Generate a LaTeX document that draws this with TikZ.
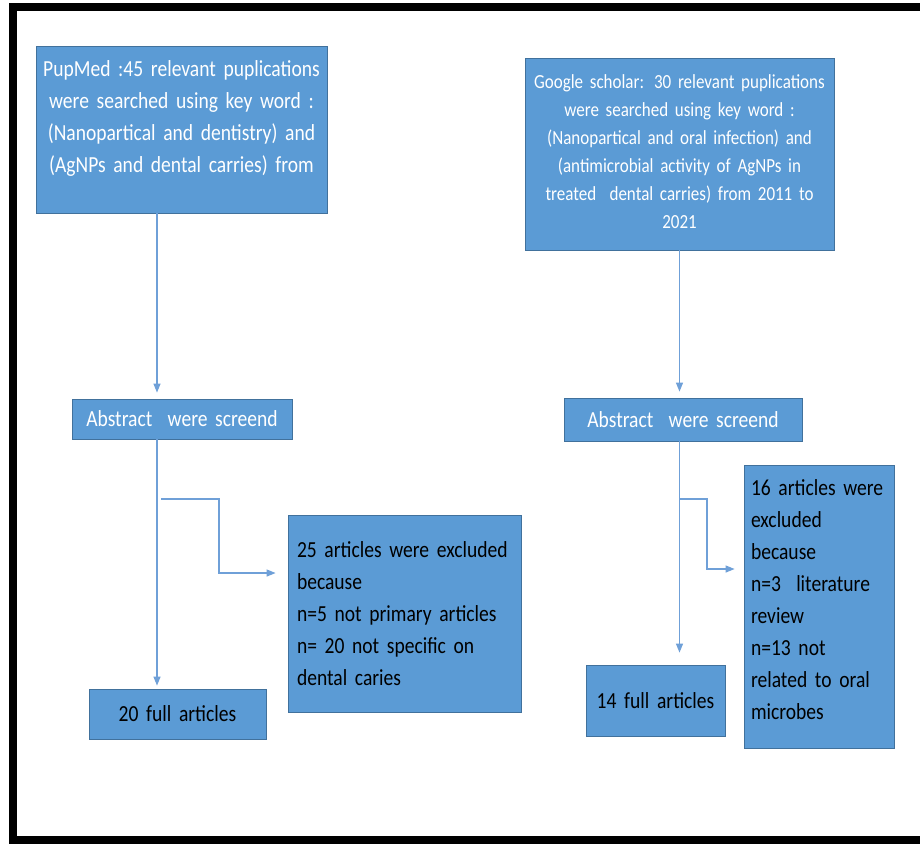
\documentclass[tikz,border=0pt]{standalone}
\usepackage{fontspec}
\setmainfont{Carlito}[FakeStretch=0.85]
\usetikzlibrary{arrows.meta}
\definecolor{boxblue}{HTML}{5B9BD5}
\definecolor{boxedge}{HTML}{41719C}
\definecolor{flowblue}{HTML}{6FA0D8}
\newcommand{\bigfont}{\fontsize{23pt}{32pt}\selectfont\hyphenpenalty=10000}
\newcommand{\smallfont}{\fontsize{20pt}{28pt}\selectfont\hyphenpenalty=10000}
\tikzset{
	blockbox/.style={fill=boxblue,draw=boxedge,line width=0.8pt,inner ysep=0pt,font=\bigfont},
	flow/.style={draw=flowblue,line width=1.2pt,-{Triangle[length=9pt,width=7pt]}}
}

\begin{document}
\begin{tikzpicture}[x=1pt,y=-1pt]
			\useasboundingbox (0,0) rectangle (920,844);
			\draw[line width=8pt] (924,7) -- (13,7) -- (13,840) -- (924,840);

			\node[blockbox,text=white,text width=283pt,inner xsep=4pt,align=center,text height=30pt,text depth=137pt] (pub) at (181.5,129.5)
				{PupMed :45 relevant puplications\\ were searched using key word :\\ (Nanopartical and dentistry) and\\ (AgNPs and dental carries) from};
			\node[blockbox,text=white,font=\smallfont,text width=301pt,inner xsep=4pt,align=center,text height=30pt,text depth=162pt] (gs) at (679.5,154)
				{Google scholar: 30 relevant puplications\\ were searched using key word :\\ (Nanopartical and oral infection) and\\ (antimicrobial activity of AgNPs in\\ treated\ \ dental carries) from 2011 to\\ 2021};

			\node[blockbox,text=white,text width=212pt,inner xsep=4pt,align=center,minimum height=40pt] (absL) at (182,419) {Abstract\ \ were screend};
			\node[blockbox,text=white,text width=230pt,inner xsep=4pt,align=center,minimum height=43pt] (absR) at (683,419.5) {Abstract\ \ were screend};

			\node[blockbox,text width=215pt,inner xsep=9pt,align=left,minimum height=197pt] (exL) at (404.5,613.5)
				{25 articles were excluded\\ because\\ n=5 not primary articles\\ n= 20 not specific on\\ dental caries};
			\node[blockbox,text width=136pt,inner xsep=7pt,align=left,text height=30pt,text depth=253pt] (exR) at (819,606.5)
				{16 articles were\\ excluded\\ because\\ n=3\ \ literature\\ review\\ n=13 not\\ related to oral\\ microbes};

			\node[blockbox,text width=169pt,inner xsep=4pt,align=center,minimum height=50pt] (fullL) at (177.5,714) {20 full articles};
			\node[blockbox,text width=131pt,inner xsep=4pt,align=center,minimum height=71pt] (fullR) at (655.5,700.5) {14 full articles};

			\coordinate (spineL) at (157,0);
			\coordinate (spineR) at (679.5,0);
			\coordinate (brL) at (161,499);
			\coordinate (kneeL) at (219,573);
			\coordinate (brR) at (679.5,499);
			\coordinate (kneeR) at (707,569);

			\draw[flow,shorten >=6pt] (pub.south -| spineL) -- (absL.north -| spineL);
			\draw[flow,shorten >=3pt] (absL.south -| spineL) -- (fullL.north -| spineL);
			\draw[flow,shorten >=12pt] (brL) -| (kneeL) -- (kneeL -| exL.west);

			\draw[flow,shorten >=6pt] (gs.south -| spineR) -- (absR.north -| spineR);
			\draw[flow,shorten >=12pt] (absR.south -| spineR) -- (fullR.north -| spineR);
			\draw[flow,shorten >=9pt] (brR) -| (kneeR) -- (kneeR -| exR.west);
		\end{tikzpicture}
\end{document}
